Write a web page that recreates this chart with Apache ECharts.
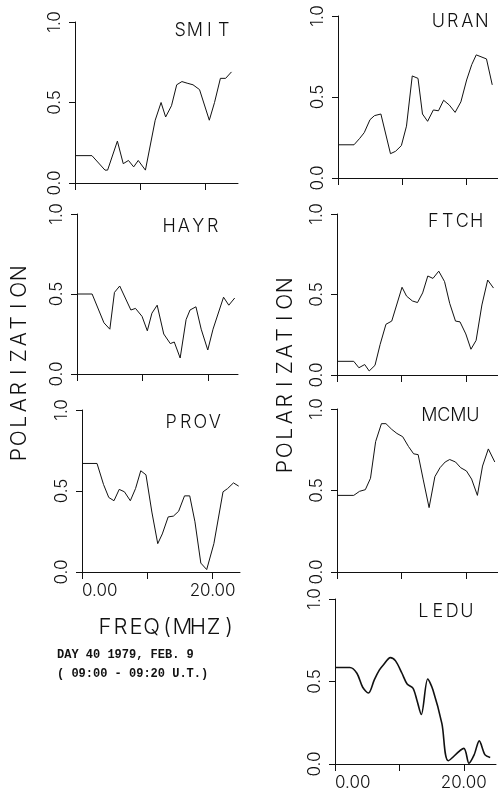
<!DOCTYPE html>
<html>
<head>
<meta charset="utf-8">
<script src="https://cdn.jsdelivr.net/npm/echarts@6/dist/echarts.min.js"></script>
<style>
  html, body { margin: 0; padding: 0; background: #fff; }
  #chart { width: 498px; height: 793px; }
</style>
</head>
<body>
<div id="chart"></div>
<script>
// Polarization versus frequency, day 40 1979, seven stations.
const freqSMIT = [0, 2.6, 4.6, 5.0, 6.5, 7.4, 8.2, 9.0, 9.7, 10.8, 12.3, 13.2, 13.9, 14.8, 15.6, 16.4, 17.2, 18.1, 19.1, 20.6, 21.4, 22.3, 23.1, 24.0];
const polSMIT  = [0.17, 0.17, 0.08, 0.08, 0.26, 0.12, 0.14, 0.10, 0.14, 0.08, 0.39, 0.50, 0.41, 0.48, 0.61, 0.63, 0.62, 0.61, 0.58, 0.39, 0.50, 0.65, 0.65, 0.69];

const freqHAYR = [0, 2.3, 4.1, 5.0, 5.7, 6.5, 8.2, 8.9, 9.9, 10.7, 11.4, 12.2, 13.2, 14.2, 14.8, 15.7, 16.6, 17.2, 18.1, 18.9, 19.9, 20.7, 22.3, 23.1, 24.0];
const polHAYR  = [0.50, 0.50, 0.32, 0.28, 0.51, 0.55, 0.40, 0.41, 0.36, 0.27, 0.38, 0.43, 0.25, 0.19, 0.20, 0.10, 0.34, 0.40, 0.42, 0.28, 0.15, 0.28, 0.48, 0.43, 0.475];

const freqPROV = [0, 2.3, 3.3, 4.1, 4.9, 5.7, 6.5, 7.4, 8.2, 9.0, 9.8, 10.7, 11.6, 12.3, 13.2, 14.0, 14.8, 15.7, 16.5, 17.3, 18.2, 19.1, 20.2, 21.6, 22.3, 23.2, 24.0];
const polPROV  = [0.67, 0.67, 0.54, 0.46, 0.44, 0.51, 0.495, 0.44, 0.515, 0.625, 0.60, 0.37, 0.175, 0.235, 0.34, 0.345, 0.375, 0.47, 0.47, 0.31, 0.055, 0.015, 0.175, 0.495, 0.515, 0.55, 0.53];

const freqURAN = [0, 2.5, 3.4, 4.1, 5.0, 5.7, 6.7, 8.2, 9.0, 9.9, 10.7, 11.6, 12.5, 13.2, 14.0, 14.9, 15.7, 16.5, 17.4, 18.3, 19.2, 20.1, 20.9, 21.6, 23.2, 24.1];
const polURAN  = [0.205, 0.205, 0.245, 0.28, 0.36, 0.385, 0.395, 0.15, 0.165, 0.20, 0.32, 0.63, 0.615, 0.395, 0.35, 0.42, 0.415, 0.48, 0.45, 0.405, 0.47, 0.605, 0.70, 0.76, 0.735, 0.575];

const freqFTCH = [0, 2.6, 3.4, 4.3, 5.0, 5.9, 6.7, 7.6, 8.5, 10.1, 10.8, 11.7, 12.5, 13.3, 14.1, 14.9, 15.8, 16.7, 17.5, 18.4, 19.1, 20.0, 20.8, 21.6, 22.5, 23.4, 24.3];
const polFTCH  = [0.085, 0.085, 0.045, 0.065, 0.025, 0.06, 0.19, 0.315, 0.335, 0.545, 0.49, 0.46, 0.45, 0.51, 0.615, 0.60, 0.645, 0.58, 0.445, 0.335, 0.33, 0.255, 0.16, 0.215, 0.435, 0.59, 0.54];

const freqMCMU = [0, 2.6, 3.5, 4.4, 5.2, 6.0, 6.9, 7.6, 8.5, 9.3, 10.2, 11.1, 11.9, 12.6, 13.4, 14.3, 15.2, 16.0, 16.8, 17.5, 18.4, 19.2, 20.1, 20.9, 21.8, 22.6, 23.5, 24.5];
const polMCMU  = [0.47, 0.47, 0.495, 0.505, 0.575, 0.80, 0.91, 0.91, 0.875, 0.85, 0.83, 0.77, 0.725, 0.72, 0.565, 0.395, 0.585, 0.64, 0.675, 0.69, 0.675, 0.64, 0.62, 0.57, 0.47, 0.65, 0.755, 0.675];

const freqLEDU = [0, 2.3, 3.4, 4.3, 5.2, 6.1, 6.9, 7.5, 8.6, 9.4, 10.4, 11.2, 12.1, 12.7, 13.4, 14.4, 15.2, 16.6, 17.6, 20.0, 20.8, 21.6, 22.4, 23.3, 24.1];
const polLEDU  = [0.585, 0.585, 0.55, 0.465, 0.43, 0.51, 0.57, 0.60, 0.645, 0.625, 0.55, 0.485, 0.46, 0.39, 0.30, 0.515, 0.45, 0.245, 0.02, 0.095, 0.005, 0.055, 0.14, 0.055, 0.04];

// Axis ticks and their labels
const polTicks = [0, 0.5, 1.0];
const freqTicks = [0, 10, 20];
const freqLabelValues = [0, 20];
const freqLabelTexts = ['0.00', '20.00'];

const captionLines = ['DAY 40 1979, FEB. 9', '( 09:00 - 09:20 U.T.)'];

// Panel layout (pixels)
const panels = [
  { name: 'SMIT', freq: freqSMIT, pol: polSMIT, left: 75,  top: 22,  width: 163, height: 161, xMax: 25,   nx: 202, ny: 31,  labels: false },
  { name: 'HAYR', freq: freqHAYR, pol: polHAYR, left: 77,  top: 214, width: 161, height: 160, xMax: 24.5, nx: 191, ny: 227, labels: false },
  { name: 'PROV', freq: freqPROV, pol: polPROV, left: 82,  top: 410, width: 158, height: 162, xMax: 24.2, nx: 193, ny: 423, labels: true },
  { name: 'URAN', freq: freqURAN, pol: polURAN, left: 338, top: 16,  width: 162, height: 162, xMax: 25,   nx: 460, ny: 22,  labels: false },
  { name: 'FTCH', freq: freqFTCH, pol: polFTCH, left: 337, top: 214, width: 163, height: 161, xMax: 25,   nx: 455, ny: 222, labels: false },
  { name: 'MCMU', freq: freqMCMU, pol: polMCMU, left: 337, top: 409, width: 162, height: 163, xMax: 25,   nx: 451, ny: 416, labels: false },
  { name: 'LEDU', freq: freqLEDU, pol: polLEDU, left: 335, top: 599, width: 161, height: 165, xMax: 25,   nx: 445, ny: 612, labels: true, smooth: true }
];

const PLOT_FONT = 'Inter';
const PLOT_WEIGHT = 300;
const INK = '#111';

// Letter-spaced text via rich fragments of fixed width
function spaced(str, cellWidth, fontSize) {
  return {
    text: str.split('').map(c => '{c|' + c + '}').join(''),
    rich: { c: { width: cellWidth, align: 'center', fontFamily: PLOT_FONT, fontWeight: PLOT_WEIGHT, fontSize: fontSize, fill: INK } }
  };
}

const grids = [], xAxes = [], yAxes = [], series = [], graphics = [];

panels.forEach((p, i) => {
  grids.push({ left: p.left, top: p.top, width: p.width, height: p.height, containLabel: false });
  xAxes.push({
    type: 'value', gridIndex: i, min: 0, max: p.xMax,
    axisLine: { show: true, onZero: false, lineStyle: { color: INK, width: 1 } },
    axisTick: { show: true, length: 7, customValues: freqTicks, lineStyle: { color: INK } },
    axisLabel: {
      show: p.labels, customValues: freqLabelValues, margin: 10, alignMinLabel: 'left',
      fontFamily: PLOT_FONT, fontWeight: PLOT_WEIGHT, fontSize: 17, color: INK,
      formatter: v => freqLabelTexts[freqLabelValues.indexOf(v)] || ''
    },
    splitLine: { show: false }
  });
  yAxes.push({
    type: 'value', gridIndex: i, min: 0, max: 1,
    axisLine: { show: true, lineStyle: { color: INK, width: 1 } },
    axisTick: { show: true, length: 6, customValues: polTicks, lineStyle: { color: INK } },
    axisLabel: {
      customValues: polTicks, rotate: 90, margin: 12,
      fontFamily: PLOT_FONT, fontWeight: PLOT_WEIGHT, fontSize: 17, color: INK,
      formatter: v => v.toFixed(1)
    },
    splitLine: { show: false }
  });
  series.push({
    type: 'line', xAxisIndex: i, yAxisIndex: i,
    data: p.freq.map((f, k) => [f, p.pol[k]]),
    showSymbol: false, smooth: p.smooth ? 0.3 : false,
    lineStyle: { color: INK, width: p.smooth ? 1.6 : 1 },
    clip: false
  });
  const t = spaced(p.name, 14.5, 18);
  graphics.push({
    type: 'text', x: p.nx, y: p.ny,
    style: { text: t.text, rich: t.rich, align: 'center', verticalAlign: 'middle' }
  });
});

// Axis names
[[20, 364], [286, 376]].forEach(([x, y]) => {
  const t = spaced('POLARIZATION', 16.5, 21);
  graphics.push({
    type: 'text', x: x, y: y, rotation: Math.PI / 2,
    style: { text: t.text, rich: t.rich, align: 'center', verticalAlign: 'middle' }
  });
});
const fq = spaced('FREQ(MHZ)', 15.5, 22);
graphics.push({
  type: 'text', x: 167, y: 627,
  style: { text: fq.text, rich: fq.rich, align: 'center', verticalAlign: 'middle' }
});
captionLines.forEach((line, k) => {
  graphics.push({
    type: 'text', x: 57, y: 655 + k * 19,
    style: {
      text: line, fill: INK, align: 'left', verticalAlign: 'middle',
      font: 'bold 12px "Liberation Mono"'
    }
  });
});

const chart = echarts.init(document.getElementById('chart'), null, { renderer: 'canvas' });
chart.setOption({
  backgroundColor: '#fff',
  animation: false,
  grid: grids,
  xAxis: xAxes,
  yAxis: yAxes,
  series: series,
  graphic: graphics
});
</script>
</body>
</html>
